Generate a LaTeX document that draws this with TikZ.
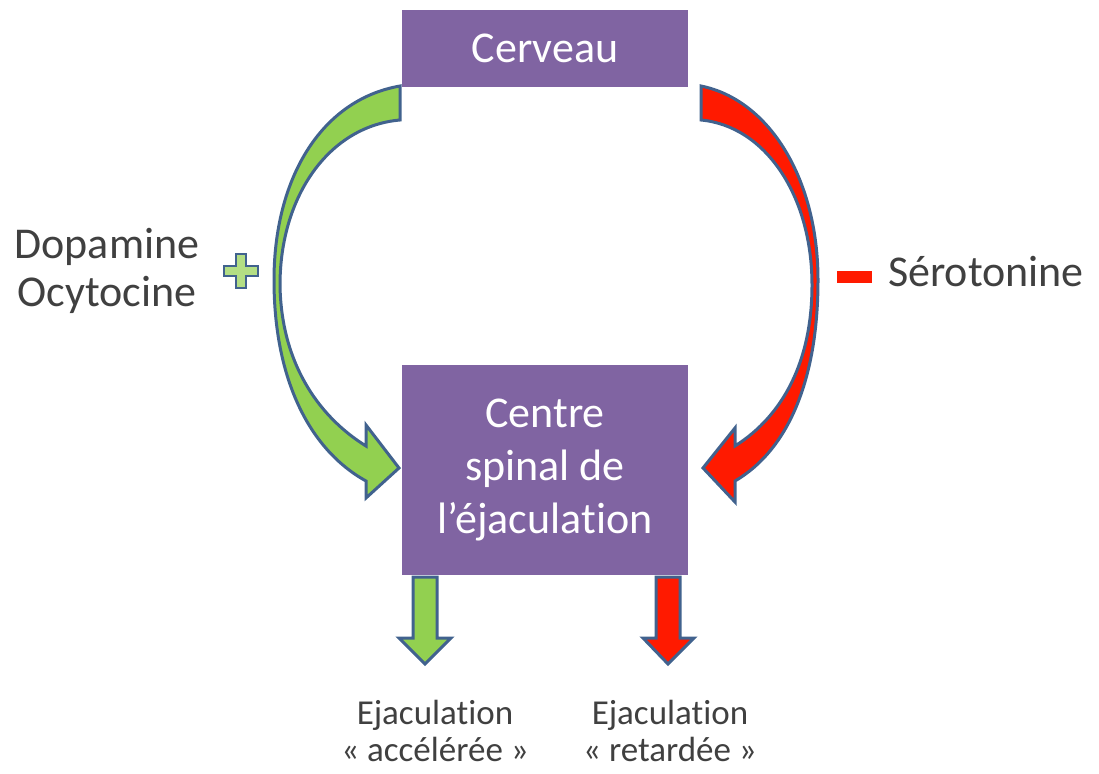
\documentclass[tikz,border=0pt]{standalone}
\usepackage{fontspec}
\setmainfont{Carlito}[Ligatures=NoCommon]
\definecolor{boxpurple}{HTML}{8064A2}
\definecolor{outl}{HTML}{41628E}
\definecolor{agreen}{HTML}{92D050}
\definecolor{ared}{HTML}{FF1A00}
\definecolor{txt}{HTML}{404040}
\tikzset{
  purplebox/.style={fill=boxpurple, text=white, align=center, inner sep=0pt},
  bigarrow/.style={draw=outl, line width=3pt, line join=miter},
  lbl/.style={text=txt, align=center, inner sep=0pt},
}
\begin{document}
\begin{tikzpicture}[x=1pt,y=-1pt]
\useasboundingbox (0,0) rectangle (1099,773);
% boxes
\node[purplebox, minimum width=286pt, minimum height=77pt, font=\fontsize{44}{53}\selectfont] (cerveau) at (545,48.5) {Cerveau};
\node[purplebox, minimum width=286pt, minimum height=210pt, font=\fontsize{44}{53}\selectfont] (centre) at (545,470) {Centre\\spinal de\\l’éjaculation};
% left curved arrow (green)
\draw[bigarrow, fill=agreen]
  (400,86) .. controls (320,100) and (274,180) .. (274,280)
  .. controls (274,380) and (310,450) .. (366,481)
  -- (366,498) -- (399,468) -- (366,425) -- (366,446)
  .. controls (316,415) and (281,360) .. (280,285)
  .. controls (280,195) and (330,126) .. (400,120) -- cycle;
% right curved arrow (red)
\draw[bigarrow, fill=ared]
  (701,86) .. controls (770,100) and (818,180) .. (818,280)
  .. controls (818,380) and (788,450) .. (735,481)
  -- (735,502) -- (703,468) -- (735,428) -- (735,446)
  .. controls (784,415) and (812,360) .. (812,285)
  .. controls (812,195) and (765,126) .. (701,120) -- cycle;
% down arrows
\draw[bigarrow, fill=agreen]
  (413,577) -- (413,638) -- (399,638) -- (425,664) -- (451,638) -- (437,638) -- (437,577) -- cycle;
\draw[bigarrow, fill=ared]
  (656,577) -- (656,638) -- (643,638) -- (668,664) -- (694,638) -- (680,638) -- (680,577) -- cycle;
% plus and minus
\draw[draw=outl, line width=2.5pt, fill=agreen!70!white]
  (236,254) -- (246,254) -- (246,266) -- (258,266) -- (258,276) -- (246,276) -- (246,288) -- (236,288) -- (236,276) -- (224,276) -- (224,266) -- (236,266) -- cycle;
\fill[ared] (837,271) rectangle (872,283);
% labels
\node[lbl, font=\fontsize{44}{48}\selectfont] (dopa) at (107,271) {Dopamine\\Ocytocine};
\node[lbl, font=\fontsize{44}{48}\selectfont, anchor=west] (sero) at (888,272) {Sérotonine};
\node[lbl, font=\fontsize{35}{37}\selectfont] (acc) at (435,731) {Ejaculation\\« accélérée »};
\node[lbl, font=\fontsize{35}{37}\selectfont] (ret) at (670,731) {Ejaculation\\« retardée »};
\end{tikzpicture}
\end{document}
